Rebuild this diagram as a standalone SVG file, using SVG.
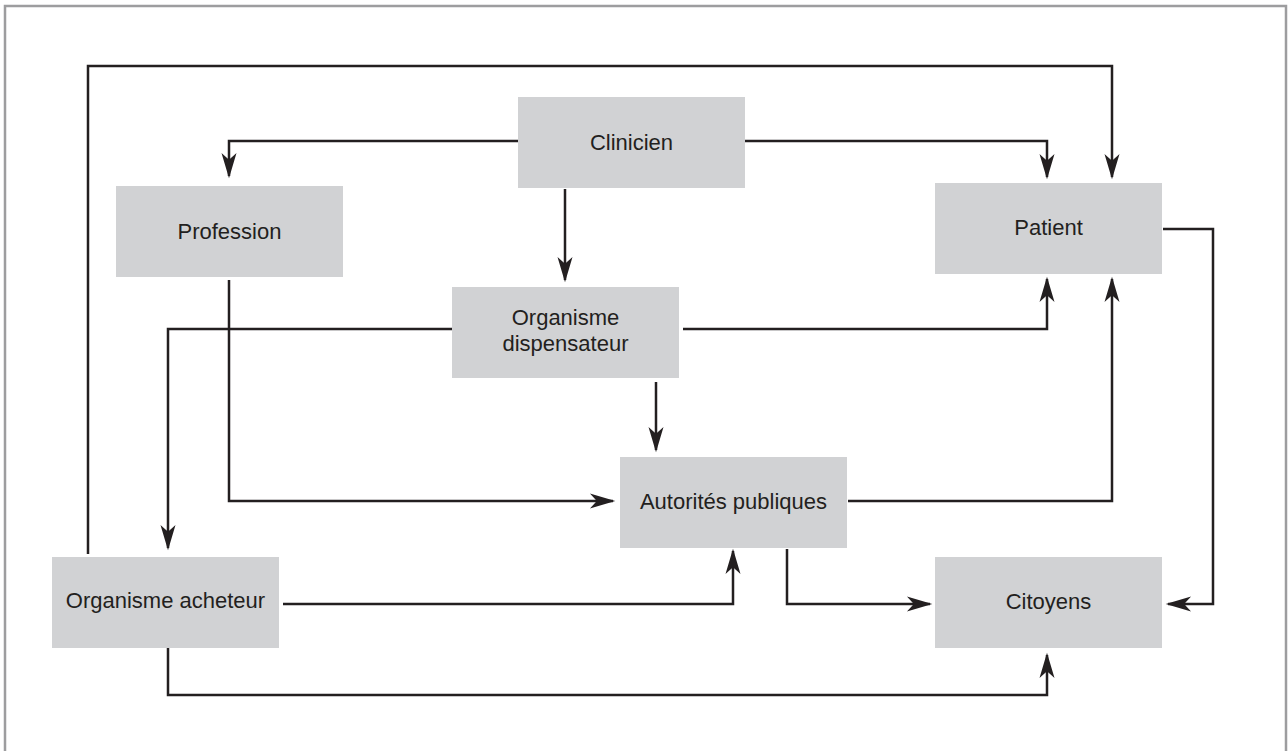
<svg xmlns="http://www.w3.org/2000/svg" width="1288" height="751" viewBox="0 0 1288 751">
<style>
.box{fill:#d1d2d4;}
.lbl{font-family:"Liberation Sans",Arial,sans-serif;font-size:22px;fill:#231f20;text-anchor:middle;}
.c{fill:none;stroke:#231f20;stroke-width:2.5;stroke-linejoin:miter;}
</style>
<defs>
<marker id="ah" markerUnits="userSpaceOnUse" markerWidth="30" markerHeight="20" viewBox="-22 -8 26 16" refX="0" refY="0" orient="auto">
<path d="M2,0 L-20,-6.5 L-14,0 L-20,6.5 Z" fill="#231f20"/>
</marker>
</defs>
<rect x="5" y="6" width="1281" height="760" fill="#ffffff" stroke="#9d9d9f" stroke-width="2.5"/>

<g id="connectors">
<path class="c" d="M88,554 V66 H1112 V177" marker-end="url(#ah)"/>
<path class="c" d="M518,141 H229 V176" marker-end="url(#ah)"/>
<path class="c" d="M745,141 H1047 V177" marker-end="url(#ah)"/>
<path class="c" d="M565,189 V280" marker-end="url(#ah)"/>
<path class="c" d="M452,329 H168 V548" marker-end="url(#ah)"/>
<path class="c" d="M683,329 H1047 V279" marker-end="url(#ah)"/>
<path class="c" d="M656,382 V450" marker-end="url(#ah)"/>
<path class="c" d="M229,280 V501 H613" marker-end="url(#ah)"/>
<path class="c" d="M848,501 H1112 V279" marker-end="url(#ah)"/>
<path class="c" d="M1163,229 H1213 V604 H1168" marker-end="url(#ah)"/>
<path class="c" d="M283,604 H733 V551" marker-end="url(#ah)"/>
<path class="c" d="M787,549 V604 H930" marker-end="url(#ah)"/>
<path class="c" d="M168,648 V695 H1047 V655" marker-end="url(#ah)"/>
</g>

<g id="clinicien">
<rect class="box" x="518" y="97" width="227" height="91"/>
<text class="lbl" x="631.5" y="149.5">Clinicien</text>
</g>
<g id="profession">
<rect class="box" x="116" y="186" width="227" height="91"/>
<text class="lbl" x="229.5" y="238.5">Profession</text>
</g>
<g id="patient">
<rect class="box" x="935" y="183" width="227" height="91"/>
<text class="lbl" x="1048.5" y="235">Patient</text>
</g>
<g id="organisme-dispensateur">
<rect class="box" x="452" y="287" width="227" height="91"/>
<text class="lbl" x="565.5" y="325">Organisme</text>
<text class="lbl" x="565.5" y="351">dispensateur</text>
</g>
<g id="autorites-publiques">
<rect class="box" x="620" y="457" width="227" height="91"/>
<text class="lbl" x="733.5" y="509">Autorités publiques</text>
</g>
<g id="organisme-acheteur">
<rect class="box" x="52" y="557" width="227" height="91"/>
<text class="lbl" x="165.5" y="608">Organisme acheteur</text>
</g>
<g id="citoyens">
<rect class="box" x="935" y="557" width="227" height="91"/>
<text class="lbl" x="1048.5" y="608.5">Citoyens</text>
</g>
</svg>
